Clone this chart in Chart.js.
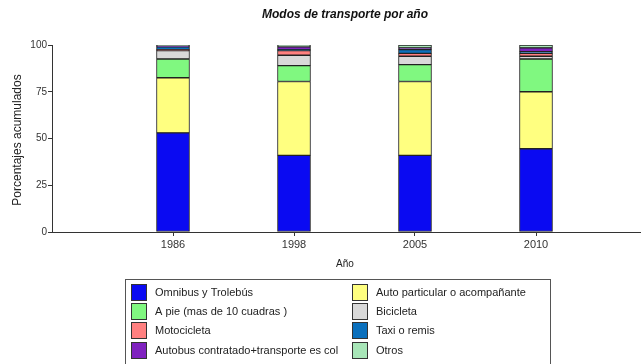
<!DOCTYPE html>
<html>
<head>
<meta charset="utf-8">
<style>
  html, body { margin: 0; padding: 0; background: #fff; }
  #wrap { width: 641px; height: 364px; }
</style>
<script src="https://cdn.jsdelivr.net/npm/chart.js@4/dist/chart.umd.min.js"></script>
</head>
<body>
<div id="wrap"><canvas id="c" width="641" height="364"></canvas></div>
<script>
// Survey years
const years = ['1986', '1998', '2005', '2010'];
const yTicks = [0, 25, 50, 75, 100];

// Share of trips by mode (%), stacked bottom to top
const omnibus    = [53.0, 41.0, 41.0, 44.5];
const auto       = [29.5, 39.5, 39.5, 30.5];
const aPie       = [10.0,  8.5,  9.0, 17.5];
const bicicleta  = [ 4.5,  5.5,  4.5,  1.5];
const moto       = [ 0.5,  2.5,  1.5,  1.5];
const taxi       = [ 1.5,  0.5,  2.0,  1.0];
const autobus    = [ 0.5,  1.5,  1.0,  2.0];
const otros      = [ 0.5,  1.0,  1.5,  1.5];

const series = [
  { label: 'Omnibus y Trolebús', values: omnibus, color: '#0a0af2' },
  { label: 'Auto particular o acompañante', values: auto, color: '#ffff80' },
  { label: 'A pie (mas de 10 cuadras )', values: aPie, color: '#80f880' },
  { label: 'Bicicleta', values: bicicleta, color: '#d9d9d9' },
  { label: 'Motocicleta', values: moto, color: '#ff8080' },
  { label: 'Taxi o remis', values: taxi, color: '#0b70bd' },
  { label: 'Autobus contratado+transporte es col', values: autobus, color: '#7f22bf' },
  { label: 'Otros', values: otros, color: '#a8e6b8' }
];

const FONT = '"Liberation Sans", Arial, sans-serif';

// Titles and the boxed two-column legend
const decorations = {
  id: 'decorations',
  afterDraw(chart) {
    const ctx = chart.ctx;
    ctx.save();
    ctx.fillStyle = '#111';
    ctx.textAlign = 'center';
    ctx.textBaseline = 'middle';
    ctx.font = 'italic bold 12px ' + FONT;
    ctx.fillText('Modos de transporte por año', 345, 15);

    ctx.font = '10px ' + FONT;
    ctx.fillStyle = '#222';
    ctx.fillText('Año', 345, 264);

    ctx.save();
    ctx.translate(18, 140);
    ctx.rotate(-Math.PI / 2);
    ctx.font = '12px ' + FONT;
    ctx.fillText('Porcentajes acumulados', 0, 0);
    ctx.restore();

    // legend frame
    ctx.strokeStyle = '#555';
    ctx.lineWidth = 1;
    ctx.strokeRect(125.5, 279.5, 425, 100);

    ctx.font = '11px ' + FONT;
    ctx.textAlign = 'left';
    const rowY = [292, 311, 330, 350];
    const colX = [131, 352];
    chart.data.datasets.forEach((ds, i) => {
      const col = i % 2;
      const row = Math.floor(i / 2);
      const x = colX[col];
      const y = rowY[row];
      ctx.fillStyle = ds.backgroundColor;
      ctx.fillRect(x, y - 8, 15, 16);
      ctx.strokeStyle = '#333';
      ctx.strokeRect(x + 0.5, y - 7.5, 15, 16);
      ctx.fillStyle = '#222';
      ctx.fillText(ds.label, x + 24, y + 1);
    });
    ctx.restore();
  }
};

new Chart(document.getElementById('c'), {
  type: 'bar',
  data: {
    datasets: series.map(s => ({
      label: s.label,
      data: s.values.map((v, i) => ({ x: i + 1, y: v })),
      backgroundColor: s.color,
      borderColor: '#222',
      borderWidth: 1,
      borderSkipped: false,
      barThickness: 33
    }))
  },
  options: {
    responsive: false,
    animation: false,
    devicePixelRatio: 1,
    layout: { padding: { top: 45, left: 0, right: 0, bottom: 0 } },
    plugins: {
      legend: { display: false },
      title: { display: false },
      tooltip: { enabled: false }
    },
    scales: {
      x: {
        type: 'linear',
        stacked: true,
        offset: false,
        min: 0,
        max: 589 / 121,
        afterBuildTicks: (scale) => { scale.ticks = years.map((_, i) => ({ value: i + 1 })); },
        afterFit: (scale) => { scale.height = 132; },
        ticks: {
          autoSkip: false,
          maxRotation: 0,
          padding: 2,
          color: '#333',
          font: { family: FONT, size: 11 },
          callback: (v) => years[v - 1]
        },
        grid: { offset: false, drawOnChartArea: false, drawTicks: true, tickLength: 4, color: '#333' },
        border: { display: true, color: '#333', width: 1 }
      },
      y: {
        stacked: true,
        min: 0,
        max: 100,
        afterBuildTicks: (scale) => { scale.ticks = yTicks.map(v => ({ value: v })); },
        afterFit: (scale) => { scale.width = 52; },
        ticks: {
          padding: 1,
          color: '#333',
          font: { family: FONT, size: 10 }
        },
        grid: { drawOnChartArea: false, drawTicks: true, tickLength: 4, color: '#333' },
        border: { display: true, color: '#333', width: 1 }
      }
    }
  },
  plugins: [decorations]
});
</script>
</body>
</html>
